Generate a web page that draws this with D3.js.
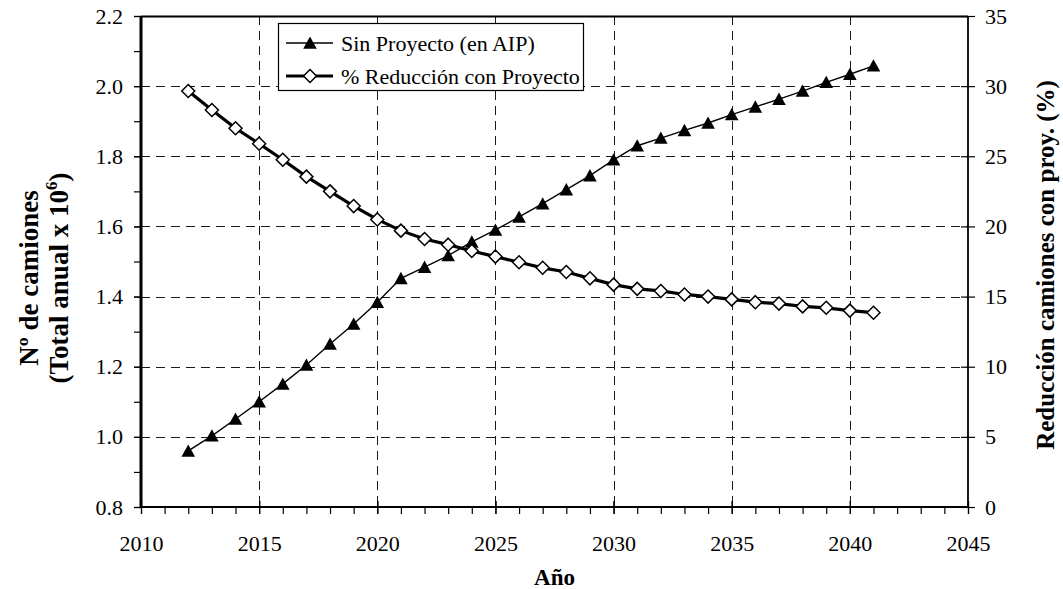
<!DOCTYPE html>
<html>
<head>
<meta charset="utf-8">
<script src="https://cdn.jsdelivr.net/npm/d3@7"></script>
<style>
  html, body { margin: 0; padding: 0; background: #fff; }
  svg { display: block; }
</style>
</head>
<body>
<svg id="chart" width="1063" height="589"></svg>
<script>
// Años de la serie
const years = [2012, 2013, 2014, 2015, 2016, 2017, 2018, 2019, 2020, 2021,
               2022, 2023, 2024, 2025, 2026, 2027, 2028, 2029, 2030, 2031,
               2032, 2033, 2034, 2035, 2036, 2037, 2038, 2039, 2040, 2041];
// Nº de camiones sin proyecto (total anual x 10^6)
const sinProyecto = [0.96, 1.003, 1.051, 1.10, 1.151, 1.205, 1.265, 1.322, 1.384, 1.452,
                     1.484, 1.517, 1.556, 1.59, 1.627, 1.665, 1.705, 1.745, 1.79, 1.83,
                     1.852, 1.874, 1.895, 1.919, 1.941, 1.963, 1.986, 2.011, 2.034, 2.058];
// % de reducción de camiones con proyecto
const reduccion = [29.65, 28.3, 27.0, 25.9, 24.75, 23.55, 22.5, 21.45, 20.5, 19.7,
                   19.1, 18.7, 18.25, 17.85, 17.45, 17.05, 16.75, 16.3, 15.85, 15.55,
                   15.4, 15.15, 15.0, 14.8, 14.6, 14.5, 14.3, 14.2, 14.0, 13.85];
// Marcas de los ejes
const xTicks = [2010, 2015, 2020, 2025, 2030, 2035, 2040, 2045];
const yLeftTicks = [0.8, 1.0, 1.2, 1.4, 1.6, 1.8, 2.0, 2.2];
const yRightTicks = [0, 5, 10, 15, 20, 25, 30, 35];
const seriesNames = ["Sin Proyecto (en AIP)", "% Reducción con Proyecto"];

const svg = d3.select("#chart");
const L = 141, R = 968, T = 16, B = 507;
const FONT = "Liberation Serif";

const x = d3.scaleLinear().domain([2010, 2045]).range([L, R]);
const yL = d3.scaleLinear().domain([0.8, 2.2]).range([B, T]);
const yR = d3.scaleLinear().domain([0, 35]).range([B, T]);

// Rejilla discontinua
const grid = svg.append("g").attr("stroke", "#1a1a1a").attr("stroke-width", 1)
  .attr("stroke-dasharray", "9,6");
grid.selectAll("line.h").data(yLeftTicks.slice(1, -1)).join("line")
  .attr("x1", L).attr("x2", R)
  .attr("y1", d => Math.round(yL(d)) + 0.5).attr("y2", d => Math.round(yL(d)) + 0.5);
grid.selectAll("line.v").data(xTicks.slice(1, -1)).join("line")
  .attr("y1", T).attr("y2", B)
  .attr("x1", d => Math.round(x(d)) + 0.5).attr("x2", d => Math.round(x(d)) + 0.5);

// Marco superior
svg.append("line").attr("x1", L).attr("x2", R).attr("y1", T + 0.5).attr("y2", T + 0.5)
  .attr("stroke", "#000").attr("stroke-width", 2);

const fmt1 = d3.format(".1f");

// Eje X
const gx = svg.append("g").attr("transform", `translate(0,${B})`)
  .call(d3.axisBottom(x).tickValues(xTicks).tickFormat(d3.format("d")).tickSize(7).tickPadding(21));
gx.append("g").call(d3.axisBottom(x).tickValues(d3.range(2010, 2046)).tickFormat("").tickSize(7));
gx.selectAll(".tick line").attr("y1", -1);
gx.selectAll(".tick").filter(d => d % 5 === 0).select("line").attr("y1", -6);

// Eje Y izquierdo
const gyl = svg.append("g").attr("transform", `translate(${L},0)`)
  .call(d3.axisLeft(yL).tickValues(yLeftTicks).tickFormat(fmt1).tickSize(7).tickPadding(11));
gyl.append("g").call(d3.axisLeft(yL).tickValues(d3.range(8, 23).map(v => v / 10)).tickFormat("").tickSize(7));

// Eje Y derecho
const gyr = svg.append("g").attr("transform", `translate(${R},0)`)
  .call(d3.axisRight(yR).tickValues(yRightTicks).tickFormat(d3.format("d")).tickSize(7).tickPadding(10));
gyr.selectAll(".tick line").attr("x1", -7);

[gx, gyl, gyr].forEach(g => {
  g.attr("font-family", null);
  g.selectAll(".domain").attr("stroke", "#000").attr("stroke-width", 2);
  g.selectAll(".tick line").attr("stroke", "#000").attr("stroke-width", 1.2);
  g.selectAll("text").style("font-family", FONT).attr("font-size", 22).attr("fill", "#000");
});
gx.selectAll(".domain").attr("d", `M${L},0H${R}`);
gyl.selectAll(".domain").attr("d", `M0,${B}V${T}`).attr("stroke-width", 2.6);
gyr.selectAll(".domain").attr("d", `M0,${B}V${T}`).attr("stroke-width", 1.8);

// Serie de camiones sin proyecto
const lineL = d3.line().x((d, i) => x(years[i])).y(d => yL(d));
svg.append("path").datum(sinProyecto).attr("d", lineL)
  .attr("fill", "none").attr("stroke", "#000").attr("stroke-width", 1.4);

// Serie de reducción
const lineR = d3.line().x((d, i) => x(years[i])).y(d => yR(d));
svg.append("path").datum(reduccion).attr("d", lineR)
  .attr("fill", "none").attr("stroke", "#000").attr("stroke-width", 3.2);

const tri = "M0,-6.5L6.8,5.8L-6.8,5.8Z";
const dia = "M0,-6.5L6.5,0L0,6.5L-6.5,0Z";

svg.append("g").selectAll("path").data(sinProyecto).join("path")
  .attr("transform", (d, i) => `translate(${x(years[i])},${yL(d)})`)
  .attr("d", tri).attr("fill", "#000");

svg.append("g").selectAll("path").data(reduccion).join("path")
  .attr("transform", (d, i) => `translate(${x(years[i])},${yR(d)})`)
  .attr("d", dia).attr("fill", "#fff").attr("stroke", "#000").attr("stroke-width", 1.5);

// Leyenda
const leg = svg.append("g");
leg.append("rect").attr("x", 278.5).attr("y", 23.5).attr("width", 305).attr("height", 67)
  .attr("fill", "#fff").attr("stroke", "#000").attr("stroke-width", 1.2);
const rows = [43, 76];
leg.append("line").attr("x1", 286).attr("x2", 333).attr("y1", rows[0]).attr("y2", rows[0])
  .attr("stroke", "#000").attr("stroke-width", 1.4);
leg.append("path").attr("transform", `translate(310,${rows[0]})`).attr("d", tri).attr("fill", "#000");
leg.append("line").attr("x1", 286).attr("x2", 333).attr("y1", rows[1]).attr("y2", rows[1])
  .attr("stroke", "#000").attr("stroke-width", 3.2);
leg.append("path").attr("transform", `translate(310,${rows[1]})`).attr("d", dia)
  .attr("fill", "#fff").attr("stroke", "#000").attr("stroke-width", 1.5);
leg.selectAll("text").data(seriesNames).join("text")
  .attr("x", 341).attr("y", (d, i) => rows[i] + 7.5)
  .style("font-family", FONT).attr("font-size", 22).attr("fill", "#000").text(d => d);

// Títulos de los ejes
svg.append("text").attr("x", (L + R) / 2).attr("y", 585).attr("text-anchor", "middle")
  .style("font-family", FONT).attr("font-size", 23).attr("font-weight", "bold").text("Año");

const tl = svg.append("text").attr("transform", "translate(0,278) rotate(-90)")
  .attr("text-anchor", "middle").style("font-family", FONT)
  .attr("font-size", 27).attr("font-weight", "bold");
tl.append("tspan").attr("x", 0).attr("y", 38).text("Nº de camiones");
const t2 = tl.append("tspan").attr("x", 0).attr("y", 68);
t2.append("tspan").text("(Total anual x 10");
t2.append("tspan").attr("dy", -11).attr("font-size", 17).text("6");
t2.append("tspan").attr("dy", 11).text(")");

svg.append("text").attr("transform", "translate(1054,265) rotate(-90)")
  .attr("text-anchor", "middle").style("font-family", FONT)
  .attr("font-size", 25).attr("font-weight", "bold")
  .text("Reducción camiones con proy. (%)");
</script>
</body>
</html>
